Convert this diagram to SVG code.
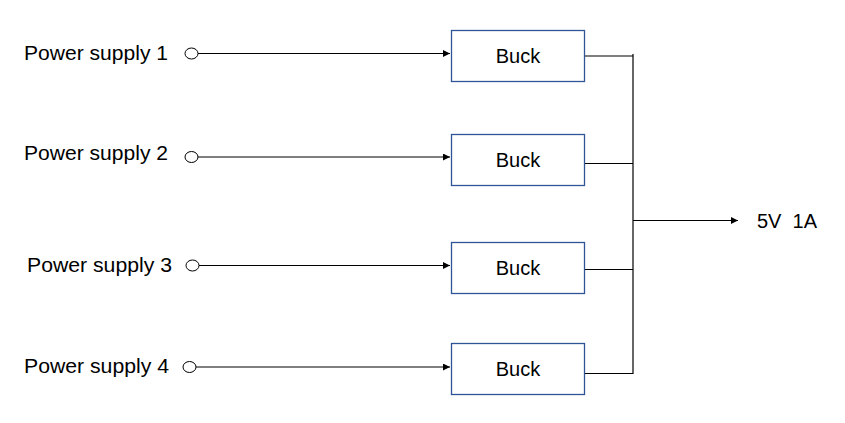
<svg xmlns="http://www.w3.org/2000/svg" width="845" height="423" viewBox="0 0 845 423">
<style>
.lbl{font-family:"Liberation Sans",Arial,sans-serif;font-size:20px;fill:#000}
.box{fill:#fff;stroke:#2f5597;stroke-width:1.3}
.ln{stroke:#000;stroke-width:1.2;fill:none}
.term{fill:#fff;stroke:#000;stroke-width:1}
</style>
<defs>
<marker id="ah" viewBox="0 0 10 10" refX="10" refY="5" markerWidth="8" markerHeight="7" markerUnits="userSpaceOnUse" orient="auto">
<path d="M0,0 L10,5 L0,10 z" fill="#000"/>
</marker>
</defs>
<g id="connectors">
<line class="ln" x1="198" y1="53.5" x2="450" y2="53.5" marker-end="url(#ah)"/>
<line class="ln" x1="198" y1="157" x2="450" y2="157" marker-end="url(#ah)"/>
<line class="ln" x1="199" y1="265.5" x2="450" y2="265.5" marker-end="url(#ah)"/>
<line class="ln" x1="196" y1="367" x2="450" y2="367" marker-end="url(#ah)"/>
<line class="ln" x1="584.5" y1="56" x2="633" y2="56"/>
<line class="ln" x1="584.5" y1="163.5" x2="633" y2="163.5"/>
<line class="ln" x1="584.5" y1="269.5" x2="633" y2="269.5"/>
<line class="ln" x1="584.5" y1="373.5" x2="633" y2="373.5"/>
<line class="ln" x1="633" y1="54" x2="633" y2="374"/>
<line class="ln" x1="633" y1="220.5" x2="738" y2="220.5" marker-end="url(#ah)"/>
</g>
<g id="ps1"><text class="lbl" x="24" y="60" textLength="144" lengthAdjust="spacingAndGlyphs">Power supply 1</text><ellipse class="term" cx="191.5" cy="53.5" rx="6.5" ry="5.5"/></g>
<g id="ps2"><text class="lbl" x="24" y="159.5" textLength="144" lengthAdjust="spacingAndGlyphs">Power supply 2</text><ellipse class="term" cx="191.5" cy="157" rx="6.5" ry="5.5"/></g>
<g id="ps3"><text class="lbl" x="27" y="272" textLength="145" lengthAdjust="spacingAndGlyphs">Power supply 3</text><ellipse class="term" cx="192.5" cy="265.5" rx="6.5" ry="5.5"/></g>
<g id="ps4"><text class="lbl" x="24" y="373" textLength="145" lengthAdjust="spacingAndGlyphs">Power supply 4</text><ellipse class="term" cx="189.5" cy="367" rx="6.5" ry="5.5"/></g>
<g id="buck1"><rect class="box" x="451.5" y="30.5" width="133" height="51"/><text class="lbl" x="518" y="62.5" text-anchor="middle">Buck</text></g>
<g id="buck2"><rect class="box" x="451.5" y="134.5" width="133" height="51"/><text class="lbl" x="518" y="166.5" text-anchor="middle">Buck</text></g>
<g id="buck3"><rect class="box" x="451.5" y="242.5" width="133" height="51"/><text class="lbl" x="518" y="274.5" text-anchor="middle">Buck</text></g>
<g id="buck4"><rect class="box" x="451.5" y="343.5" width="133" height="51"/><text class="lbl" x="518" y="375.5" text-anchor="middle">Buck</text></g>
<g id="out"><text class="lbl" x="757" y="227.5" xml:space="preserve">5V  1A</text></g>
</svg>
